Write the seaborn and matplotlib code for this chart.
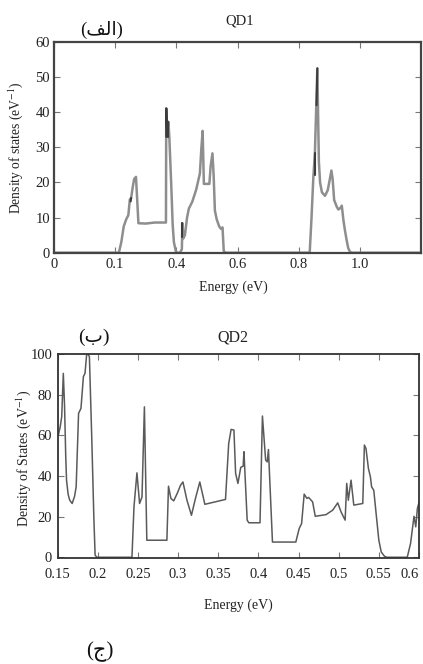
import matplotlib
matplotlib.use("Agg")
import matplotlib.pyplot as plt
import seaborn as sns
import pandas as pd

# ---------------- data: QD1 ----------------
e1 = [0.0, 0.212, 0.220, 0.228, 0.236, 0.243, 0.248, 0.252, 0.257, 0.262, 0.268,
      0.272, 0.276, 0.300, 0.330, 0.366, 0.367, 0.371, 0.374, 0.377, 0.383, 0.388,
      0.392, 0.398, 0.402, 0.412, 0.418, 0.420, 0.423, 0.428, 0.435, 0.441, 0.452,
      0.465, 0.477, 0.482, 0.486, 0.490, 0.508, 0.512, 0.518, 0.522, 0.526, 0.532,
      0.540, 0.546, 0.551, 0.555, 0.560, 0.836, 0.842, 0.848, 0.853, 0.861, 0.866,
      0.870, 0.876, 0.886, 0.895, 0.902, 0.907, 0.911, 0.916, 0.925, 0.930, 0.937,
      0.941, 0.946, 0.951, 0.957, 0.962, 0.968, 0.975, 1.2]
dos1 = [0, 0, 3, 7.5, 9.5, 10.7, 15.2, 15.5, 18.5, 21.0, 21.6,
        15, 8.4, 8.3, 8.6, 8.6, 41.1, 33, 37.3, 33, 20, 8,
        3, 0.5, 0, 0, 1, 8.4, 4.1, 5, 10, 12.6, 14.5,
        18, 22.6, 30, 34.7, 19.6, 19.6, 24.5, 28.3, 22, 12, 9.5,
        7.5, 6.8, 7.2, 0.5, 0, 0, 10, 21.6, 28.3, 52.5, 26,
        20, 17.2, 16.2, 17.8, 21, 23.4, 21, 15, 13, 12.3, 12.8,
        13.4, 9.5, 6.5, 3.5, 1.3, 0.2, 0, 0]

# darker highlighted segments in QD1
hi_seg = [0, 0, 0, 1, 1, 2, 2, 3, 3, 4, 4, 5, 5]
hi_e = [0.367, 0.367, 0.370, 0.374, 0.374, 0.853, 0.853, 0.8585, 0.861, 0.420, 0.420, 0.2505, 0.252]
hi_dos = [33, 41.1, 34, 33, 37.3, 22, 28.3, 42, 52.5, 4.5, 8.4, 14.6, 15.6]

# ---------------- data: QD2 ----------------
e2 = [0.1508, 0.153, 0.155, 0.157, 0.1585, 0.160, 0.161, 0.163, 0.165, 0.168, 0.171,
      0.173, 0.176, 0.179, 0.182, 0.184, 0.186, 0.188, 0.1895, 0.1925, 0.195, 0.1966,
      0.199, 0.2425, 0.245, 0.2487, 0.252, 0.255, 0.258, 0.261, 0.286, 0.288, 0.291,
      0.2945, 0.2988, 0.303, 0.306, 0.311, 0.3166, 0.3216, 0.327, 0.3333, 0.359, 0.363,
      0.366, 0.3695, 0.3716, 0.3745, 0.378, 0.381, 0.382, 0.386, 0.388, 0.402, 0.405,
      0.409, 0.411, 0.4125, 0.4175, 0.4466, 0.4508, 0.4538, 0.457, 0.4604, 0.4625,
      0.4675, 0.4708, 0.4841, 0.4925, 0.4988, 0.503, 0.508, 0.510, 0.512, 0.5154,
      0.5188, 0.530, 0.532, 0.534, 0.537, 0.5395, 0.541, 0.5437, 0.5466, 0.550, 0.553,
      0.557, 0.560, 0.5854, 0.5895, 0.5938, 0.596, 0.598, 0.6008]
dos2 = [60.2, 64, 69.2, 90.6, 75, 50, 38, 31, 28.1, 26.5, 30,
        34.7, 70.9, 73.4, 89, 90.6, 99.7, 100, 98.8, 57.7, 20, 1,
        0, 0, 24.8, 41.6, 26.5, 29.7, 74.1, 8.4, 8.4, 35, 29,
        27.8, 31.4, 35.5, 37.1, 28.1, 20.7, 29, 37.1, 26.1, 28.5, 56.1,
        63, 62.7, 41.3, 36.4, 44.3, 44.9, 52, 18.3, 17, 17, 69.6,
        47.9, 47, 53.1, 7.5, 7.5, 14.2, 16.6, 31.1, 29, 29.5,
        27.3, 20.2, 21, 23.2, 26.8, 22.3, 18.3, 36.4, 28.1, 38,
        25.7, 26.5, 55.3, 53.6, 43.8, 39.6, 34.7, 33, 21.6, 8.4, 2.6,
        0.5, 0, 0, 6.8, 20.2, 15, 24, 28.1]

x1_ticks = [0, 0.2, 0.4, 0.6, 0.8, 1.0]
x1_labels = ["0", "0.1", "0.4", "0.6", "0.8", "1.0"]
y1_ticks = [0, 10, 20, 30, 40, 50, 60]
x2_ticks = [0.15, 0.2, 0.25, 0.3, 0.35, 0.4, 0.45, 0.5, 0.55, 0.6]
x2_labels = ["0.15", "0.2", "0.25", "0.3", "0.35", "0.4", "0.45", "0.5", "0.55", "0.6"]
y2_ticks = [0, 20, 40, 60, 80, 100]

# ---------------- style ----------------
sns.set_theme(style="ticks")
plt.rcParams['font.family'] = ['Liberation Serif', 'DejaVu Sans']
plt.rcParams['mathtext.fontset'] = 'stix'

fig = plt.figure(figsize=(4.23, 6.64), dpi=100)
fig.patch.set_facecolor("white")
ax1 = fig.add_axes([0.1277, 0.6194, 0.8676, 0.3173])
ax2 = fig.add_axes([0.1364, 0.1592, 0.8541, 0.3072])

df1 = pd.DataFrame({"Energy": e1, "DOS": dos1})
sns.lineplot(data=df1, x="Energy", y="DOS", ax=ax1, sort=False, estimator=None,
             color="#8e8e8e", lw=1.8)
dfh = pd.DataFrame({"Energy": hi_e, "DOS": hi_dos, "seg": hi_seg})
sns.lineplot(data=dfh, x="Energy", y="DOS", units="seg", ax=ax1, sort=False,
             estimator=None, color="#3c3c3c", lw=1.5)

df2 = pd.DataFrame({"Energy": e2, "DOS": dos2})
sns.lineplot(data=df2, x="Energy", y="DOS", ax=ax2, sort=False, estimator=None,
             color="#5a5a5a", lw=1.1)

# axes 1
ax1.set_xlim(0, 1.2)
ax1.set_ylim(0, 60)
ax1.set_xticks(x1_ticks)
ax1.set_xticklabels(x1_labels)
ax1.set_yticks(y1_ticks)
ax1.tick_params(direction="in", top=True, right=True, length=4, width=0.8,
                color="#777777", labelsize=10.5, labelcolor="#222222", pad=4)
ax1.tick_params(axis="y", pad=3)
for s in ax1.spines.values():
    s.set_linewidth(1.6)
    s.set_color("#444444")
ax1.set_xlabel("Energy (eV)", fontsize=10, color="#222222")
ax1.xaxis.set_label_coords(0.49, -0.166)
ax1.xaxis.label.set_verticalalignment("center")
ax1.set_ylabel(r"Density of states (eV$^{-1}$)", fontsize=9.8, color="#222222")
ax1.yaxis.set_label_coords(-0.105, 0.5)
ax1.yaxis.label.set_verticalalignment("center")

# axes 2
ax2.set_xlim(0.15, 0.6)
ax2.set_ylim(-0.5, 100)
ax2.set_xticks(x2_ticks)
ax2.set_xticklabels(x2_labels)
ax2.set_yticks(y2_ticks)
ax2.tick_params(direction="in", top=True, right=True, length=4, width=0.8,
                color="#777777", labelsize=10.5, labelcolor="#222222", pad=7)
ax2.tick_params(axis="y", pad=4)
ax2.get_xticklabels()[-1].set_horizontalalignment("right")
ax2.get_xticklabels()[-1].set_x(0.6)
for s in ax2.spines.values():
    s.set_linewidth(1.3)
    s.set_color("#333333")
ax2.set_xlabel("Energy (eV)", fontsize=10, color="#222222")
ax2.xaxis.set_label_coords(0.5, -0.23)
ax2.xaxis.label.set_verticalalignment("center")
ax2.set_ylabel(r"Density of States (eV$^{-1}$)", fontsize=10, color="#222222")
ax2.yaxis.set_label_coords(-0.095, 0.49)
ax2.yaxis.label.set_verticalalignment("center")

# titles and panel letters
fig.text(240 / 423, 1 - 21 / 664, "QD1", ha="center", va="center", fontsize=10.5, color="#222222")
fig.text(102 / 423, 1 - 30 / 664, "(\uFED2\uFEDF\uFE8D)", ha="center", va="center",
         fontsize=13.5, color="#111111")
fig.text(233 / 423, 1 - 337 / 664, "QD2", ha="center", va="center", fontsize=11.5, color="#222222")
fig.text(94 / 423, 1 - 337 / 664, "(\u0628)", ha="center", va="center", fontsize=14, color="#111111")
fig.text(100 / 423, 1 - 652 / 664, "(\u062C)", ha="center", va="center", fontsize=15, color="#111111")

fig.savefig("out.png", dpi=100, facecolor="white")
